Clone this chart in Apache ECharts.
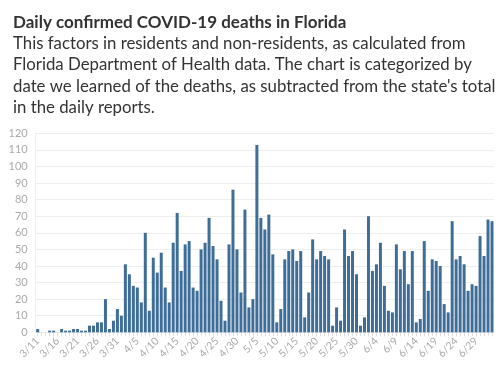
<!DOCTYPE html>
<html><head><meta charset="utf-8">
<script src="https://cdn.jsdelivr.net/npm/echarts@6/dist/echarts.min.js"></script>
<style>html,body{margin:0;padding:0;background:#fff}#c{width:500px;height:368px}</style>
</head><body><div id="c"></div>
<script>
var dates = [
 "3/11","3/12","3/13","3/14","3/15","3/16","3/17","3/18","3/19","3/20","3/21","3/22","3/23","3/24","3/25","3/26","3/27","3/28","3/29","3/30","3/31",
 "4/1","4/2","4/3","4/4","4/5","4/6","4/7","4/8","4/9","4/10","4/11","4/12","4/13","4/14","4/15","4/16","4/17","4/18","4/19","4/20","4/21","4/22","4/23","4/24","4/25","4/26","4/27","4/28","4/29","4/30",
 "5/1","5/2","5/3","5/4","5/5","5/6","5/7","5/8","5/9","5/10","5/11","5/12","5/13","5/14","5/15","5/16","5/17","5/18","5/19","5/20","5/21","5/22","5/23","5/24","5/25","5/26","5/27","5/28","5/29","5/30","5/31",
 "6/1","6/2","6/3","6/4","6/5","6/6","6/7","6/8","6/9","6/10","6/11","6/12","6/13","6/14","6/15","6/16","6/17","6/18","6/19","6/20","6/21","6/22","6/23","6/24","6/25","6/26","6/27","6/28","6/29","6/30",
 "7/1","7/2","7/3"
];
var marchDeaths = [2,0,0,1,1,0,2,1,1,2,2,1,1,4,4,6,6,20,2,7,14];
var aprilDeaths = [10,41,35,28,27,18,60,13,45,36,48,27,18,54,72,37,53,55,27,25,50,54,69,52,44,19,7,53,86,50];
var mayDeaths = [24,74,15,20,113,69,62,71,47,6,14,44,49,50,43,49,9,24,56,44,49,46,44,4,15,7,62,46,49,35,4];
var juneDeaths = [9,70,37,41,54,28,13,12,53,38,49,29,49,6,8,55,25,44,43,40,17,12,67,44,46,41,25,29,28,58];
var julyDeaths = [46,68,67];
var yTicks = {min:0, max:120, interval:10};
var titleText = "Daily confirmed COVID-19 deaths in Florida";
var subText = "This factors in residents and non-residents, as calculated from\nFlorida Department of Health data. The chart is categorized by\ndate we learned of the deaths, as subtracted from the state's total\nin the daily reports.";

var deaths = marchDeaths.concat(aprilDeaths, mayDeaths, juneDeaths, julyDeaths);
var FONT = "Lato";
var chart = echarts.init(document.getElementById('c'), null, {renderer:'canvas'});
chart.setOption({
  animation:false,
  title:{
    text:titleText, subtext:subText, left:13, top:13, itemGap:0, padding:0,
    textStyle:{fontFamily:FONT, fontSize:17, fontWeight:'bold', color:'#333', lineHeight:20},
    subtextStyle:{fontFamily:FONT, fontSize:16.8, color:'#333', lineHeight:21.3}
  },
  grid:{left:35.7, right:6, top:133.3, bottom:35.7, containLabel:false},
  xAxis:{
    type:'category', data:dates, boundaryGap:true,
    axisLine:{show:true, lineStyle:{color:'#e6e6e6'}},
    axisTick:{show:true, interval:0, length:4, alignWithLabel:true, lineStyle:{color:'#e0e0e0'}},
    axisLabel:{interval:4, rotate:45, color:'#aaa', fontFamily:FONT, fontSize:10.5, margin:7}
  },
  yAxis:{
    type:'value', min:yTicks.min, max:yTicks.max, interval:yTicks.interval,
    axisLine:{show:true, lineStyle:{color:'#eee'}},
    axisTick:{show:false},
    splitLine:{show:true, lineStyle:{color:'#eee'}},
    axisLabel:{color:'#aaa', fontFamily:FONT, fontSize:11, margin:8}
  },
  series:[{type:'bar', data:deaths, barCategoryGap:'25%', itemStyle:{color:'#3e6d98'}}]
});
</script></body></html>
